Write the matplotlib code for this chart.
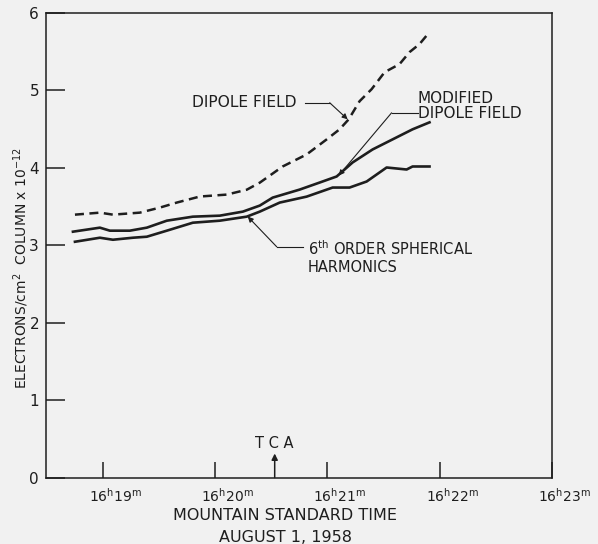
import matplotlib
matplotlib.use("Agg")
import matplotlib.pyplot as plt
from matplotlib.transforms import ScaledTranslation

# Time in minutes past 16h, electron content in units of 1e12 electrons/cm^2 column
dipole_t = [18.751, 18.973, 19.089, 19.329, 19.507, 19.658, 19.863, 20.103, 20.281,
            20.397, 20.601, 20.815, 20.993, 21.108, 21.189, 21.286, 21.393, 21.509,
            21.642, 21.731, 21.820, 21.909]
dipole_v = [3.395, 3.421, 3.395, 3.421, 3.486, 3.551, 3.629, 3.654, 3.717,
            3.808, 4.017, 4.173, 4.367, 4.497, 4.626, 4.860, 5.015, 5.235,
            5.339, 5.494, 5.598, 5.753]

modified_t = [18.733, 18.973, 19.062, 19.240, 19.391, 19.569, 19.801, 20.041, 20.246,
              20.397, 20.512, 20.753, 20.931, 21.082, 21.224, 21.402, 21.580, 21.758,
              21.909]
modified_v = [3.175, 3.227, 3.188, 3.188, 3.227, 3.317, 3.369, 3.382, 3.434,
              3.512, 3.615, 3.719, 3.810, 3.888, 4.069, 4.237, 4.367, 4.497,
              4.587]

harmonic_t = [18.751, 18.973, 19.089, 19.267, 19.391, 19.569, 19.801, 20.041, 20.281,
              20.397, 20.575, 20.815, 21.046, 21.197, 21.349, 21.527, 21.705, 21.758,
              21.909]
harmonic_v = [3.045, 3.097, 3.071, 3.097, 3.110, 3.188, 3.291, 3.317, 3.369,
              3.434, 3.551, 3.628, 3.745, 3.745, 3.823, 4.004, 3.978, 4.017,
              4.017]

minute_ticks = [19, 20, 21, 22, 23]
minute_labels = [r"16$^{\rm h}$%d$^{\rm m}$" % m for m in minute_ticks]
tca_minute = 20.53

ink = "#1e1e1e"
bg = "#f1f1f1"

plt.rcParams["font.family"] = "DejaVu Sans"
plt.rcParams["mathtext.fontset"] = "dejavusans"

fig = plt.figure(figsize=(5.98, 5.44), dpi=100, facecolor=bg)
ax = fig.add_axes([0.0769, 0.1222, 0.8462, 0.854])
ax.set_facecolor(bg)

ax.plot(dipole_t, dipole_v, color=ink, lw=1.8, dashes=(3.6, 2.2))
ax.plot(modified_t, modified_v, color=ink, lw=1.9)
ax.plot(harmonic_t, harmonic_v, color=ink, lw=1.9)

ax.set_xlim(18.493, 22.995)
ax.set_ylim(0, 6)
ax.set_xticks(minute_ticks)
ax.set_xticklabels(minute_labels)
ax.set_yticks(range(0, 7))
ax.tick_params(axis="x", direction="in", length=11.5, width=1.1, pad=7,
               labelsize=10, colors=ink)
ax.tick_params(axis="y", direction="in", length=14, width=1.1, pad=5,
               labelsize=11, colors=ink)
# hour digits sit just left of each tick, minutes to the right
shift = ScaledTranslation(-0.14, 0, fig.dpi_scale_trans)
for lbl in ax.get_xticklabels():
    lbl.set_horizontalalignment("left")
    lbl.set_transform(lbl.get_transform() + shift)

for s in ax.spines.values():
    s.set_color(ink)
    s.set_linewidth(1.1)

fig.text(0.035, 0.507, r"ELECTRONS/cm$^2$  COLUMN x 10$^{-12}$", rotation=90,
         ha="center", va="center", fontsize=10, color=ink)
fig.text(0.4766, 0.053, "MOUNTAIN STANDARD TIME", ha="center", va="center",
         fontsize=11.5, color=ink)
fig.text(0.4766, 0.012, "AUGUST 1, 1958", ha="center", va="center",
         fontsize=11.5, color=ink)

# closest approach marker
ax.annotate("", xy=(tca_minute, 0.31), xytext=(tca_minute, 0),
            arrowprops=dict(arrowstyle="-|>", color=ink, lw=1.1,
                            mutation_scale=9, shrinkA=0, shrinkB=0))
ax.text(tca_minute, 0.44, "T C A", ha="center", va="center", fontsize=10.5, color=ink)

lead = dict(arrowstyle="-|>", color=ink, lw=0.8, mutation_scale=8,
            shrinkA=0, shrinkB=0)

# dipole field label
ax.text(19.79, 4.84, "DIPOLE FIELD", ha="left", va="center", fontsize=11.2, color=ink)
ax.plot([20.797, 21.02], [4.84, 4.84], color=ink, lw=0.8)
ax.annotate("", xy=(21.18, 4.626), xytext=(21.02, 4.84), arrowprops=lead)

# modified dipole label
ax.text(21.802, 4.80, "MODIFIED\nDIPOLE FIELD", ha="left", va="center",
        fontsize=11, color=ink, linespacing=0.95)
ax.plot([21.571, 21.802], [4.71, 4.71], color=ink, lw=0.8)
ax.annotate("", xy=(21.10, 3.90), xytext=(21.571, 4.71), arrowprops=lead)

# spherical harmonics label
ax.text(20.824, 2.85, "6$^{\\rm th}$ ORDER SPHERICAL\nHARMONICS", ha="left",
        va="center", fontsize=10.5, color=ink, linespacing=1.15)
ax.plot([20.548, 20.779], [2.98, 2.98], color=ink, lw=0.8)
ax.annotate("", xy=(20.29, 3.37), xytext=(20.548, 2.98), arrowprops=lead)

fig.savefig("out.png", dpi=100, facecolor=bg)
